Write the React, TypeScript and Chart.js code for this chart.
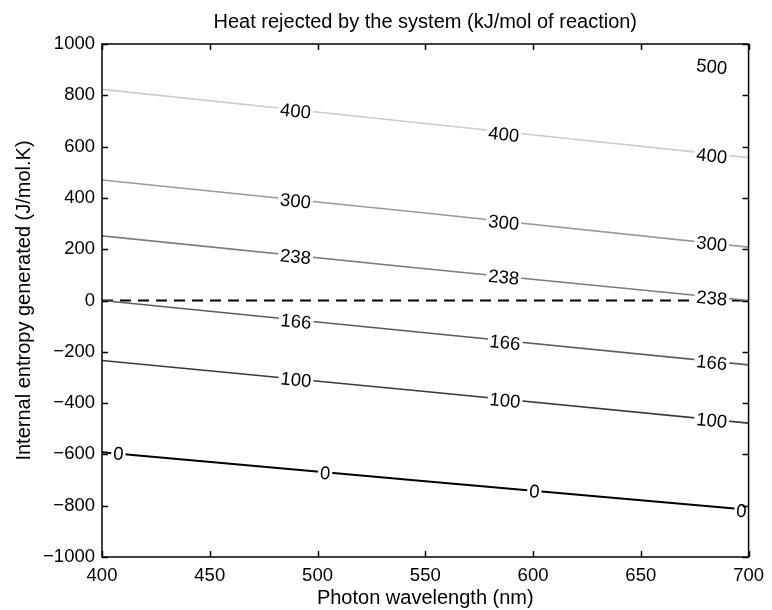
import React, { useEffect, useRef } from 'react';
import { Chart, registerables } from 'chart.js';
Chart.register(...registerables);

const FONT = "'Liberation Sans', Arial, Helvetica, sans-serif";

const chartTitle = 'Heat rejected by the system (kJ/mol of reaction)';
const xTitle = 'Photon wavelength (nm)';
const yTitle = 'Internal entropy generated (J/mol.K)';

const wavelengths = [400, 550, 700];
const levels = [0, 100, 166, 238, 300, 400];
const line0 = [-592, -705, -816];
const line100 = [-234, -355, -478];
const line166 = [0, -126, -251];
const line238 = [252, 124, 0];
const line300 = [470, 341, 208];
const line400 = [823, 690, 557];
const zeroLine = [0, 0, 0];
const lineColors = ['#000000', '#3a3a3a', '#5c5c5c', '#7c7c7c', '#999999', '#cccccc'];

const labelLevel = [0, 0, 0, 0, 100, 100, 100, 166, 166, 166, 238, 238, 238, 300, 300, 300, 400, 400, 400, 500];
const labelX = [407.6, 503.5, 600.6, 696.7, 490, 587, 682.9, 490, 587, 682.9, 489.8, 586.4, 682.9, 489.8, 586.4, 682.9, 489.8, 586.4, 682.9, 682.9];
const labelY = [-597, -673, -744, -820, -309, -390, -468, -82, -164, -242, 171, 91, 9, 388, 304, 221, 739, 648, 564, 912];

const xTicks = [400, 450, 500, 550, 600, 650, 700];
const yTicks = [-1000, -800, -600, -400, -200, 0, 200, 400, 600, 800, 1000];

const series = [line0, line100, line166, line238, line300, line400];

const overlay = {
  id: 'overlay',
  afterDatasetsDraw(chart: any) {
    const { ctx, scales } = chart;
    const xs = scales.x;
    const ys = scales.y;
    ctx.save();
    ctx.font = `18.5px ${FONT}`;
    ctx.textAlign = 'center';
    ctx.textBaseline = 'middle';
    for (let i = 0; i < labelLevel.length; i++) {
      const lv = labelLevel[i];
      let idx = levels.indexOf(lv);
      if (idx < 0) idx = levels.length - 1;
      const s = series[idx];
      const x0 = xs.getPixelForValue(wavelengths[0]);
      const x1 = xs.getPixelForValue(wavelengths[wavelengths.length - 1]);
      const y0 = ys.getPixelForValue(s[0]);
      const y1 = ys.getPixelForValue(s[s.length - 1]);
      const ang = Math.atan2(y1 - y0, x1 - x0);
      const px = xs.getPixelForValue(labelX[i]);
      const py = ys.getPixelForValue(labelY[i]);
      const txt = String(lv);
      const w = ctx.measureText(txt).width;
      ctx.save();
      ctx.translate(px, py);
      ctx.rotate(ang);
      ctx.fillStyle = '#ffffff';
      ctx.fillRect(-w / 2 - 2, -7, w + 4, 14);
      ctx.fillStyle = '#000000';
      ctx.fillText(txt, 0, 1);
      ctx.restore();
    }
    ctx.restore();
  },
  afterDraw(chart: any) {
    const { ctx, chartArea, scales } = chart;
    const { left, right, top, bottom } = chartArea;
    const xs = scales.x;
    const ys = scales.y;
    ctx.save();
    ctx.strokeStyle = '#000000';
    ctx.lineWidth = 1.5;
    const tl = 6;
    ctx.beginPath();
    for (const v of xTicks) {
      const p = Math.round(xs.getPixelForValue(v)) + 0.5;
      ctx.moveTo(p, bottom);
      ctx.lineTo(p, bottom - tl);
      ctx.moveTo(p, top);
      ctx.lineTo(p, top + tl);
    }
    for (const v of yTicks) {
      const p = Math.round(ys.getPixelForValue(v)) + 0.5;
      ctx.moveTo(left, p);
      ctx.lineTo(left + tl, p);
      ctx.moveTo(right, p);
      ctx.lineTo(right - tl, p);
    }
    ctx.stroke();
    ctx.strokeRect(left, top, right - left, bottom - top);

    ctx.fillStyle = '#000000';
    ctx.font = `20px ${FONT}`;
    ctx.textAlign = 'center';
    ctx.textBaseline = 'middle';
    const cx = (left + right) / 2;
    ctx.fillText(chartTitle, cx, 22);
    ctx.fillText(xTitle, cx, 598);
    ctx.save();
    ctx.translate(24, (top + bottom) / 2);
    ctx.rotate(-Math.PI / 2);
    ctx.fillText(yTitle, 0, 0);
    ctx.restore();
    ctx.restore();
  },
};

export default function App() {
  const ref = useRef<HTMLCanvasElement | null>(null);
  useEffect(() => {
    document.body.style.margin = '0';
    const canvas = ref.current;
    if (!canvas) return;
    const datasets: any[] = series.map((s, i) => ({
      label: String(levels[i]),
      data: wavelengths.map((x, j) => ({ x, y: s[j] })),
      borderColor: lineColors[i],
      borderWidth: i === 0 ? 2 : 1.6,
      pointRadius: 0,
      showLine: true,
      fill: false,
    }));
    datasets.push({
      label: 'zero',
      data: wavelengths.map((x, j) => ({ x, y: zeroLine[j] })),
      borderColor: '#000000',
      borderWidth: 1.8,
      borderDash: [11, 7],
      pointRadius: 0,
      showLine: true,
      fill: false,
    });
    const chart = new Chart(canvas, {
      type: 'scatter',
      data: { datasets },
      options: {
        animation: false,
        responsive: false,
        devicePixelRatio: 1,
        layout: { padding: { top: 44, right: 19, left: 0, bottom: 0 } },
        plugins: { legend: { display: false }, tooltip: { enabled: false }, title: { display: false } },
        scales: {
          x: {
            type: 'linear',
            min: 400,
            max: 700,
            afterBuildTicks: (s: any) => { s.ticks = xTicks.map((v) => ({ value: v })); },
            ticks: { color: '#000', font: { family: FONT, size: 18.5 }, padding: 8, maxRotation: 0 },
            grid: { display: false, drawTicks: false },
            border: { display: false },
            afterFit: (s: any) => { s.height = 53; },
          },
          y: {
            type: 'linear',
            min: -1000,
            max: 1000,
            afterBuildTicks: (s: any) => { s.ticks = yTicks.map((v) => ({ value: v })); },
            ticks: {
              color: '#000',
              font: { family: FONT, size: 18.5 },
              padding: 7,
              callback: (v: any) => (Number(v) < 0 ? '\u2212' + Math.abs(Number(v)) : String(v)),
            },
            grid: { display: false, drawTicks: false },
            border: { display: false },
            afterFit: (s: any) => { s.width = 102; },
          },
        },
      },
      plugins: [overlay],
    });
    return () => chart.destroy();
  }, []);
  return (
    <div style={{ width: 772, height: 610 }}>
      <canvas ref={ref} width={772} height={610} />
    </div>
  );
}
